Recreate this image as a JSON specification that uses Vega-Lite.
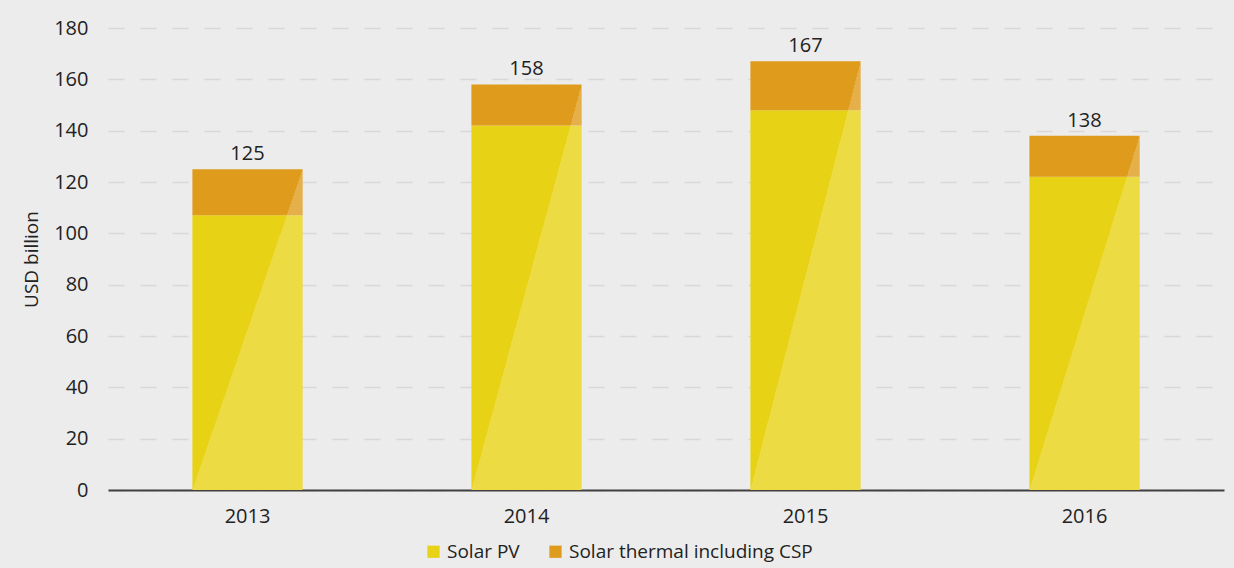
{
  "$schema": "https://vega.github.io/schema/vega-lite/v6.json",
  "width": 1116,
  "height": 462,
  "autosize": {"type": "none"},
  "padding": {"left": 108, "top": 28, "right": 10, "bottom": 78},
  "background": "#ececec",
  "config": {
    "view": {"stroke": null},
    "font": "Open Sans",
    "text": {"font": "Open Sans"},
    "axisY": {
      "title": "USD billion",
      "titleFontSize": 19,
      "titleFontWeight": "normal",
      "titleColor": "#222222",
      "titlePadding": 12,
      "labelFontSize": 20,
      "labelColor": "#222222",
      "labelPadding": 20,
      "labelOverlap": false,
      "tickCount": 9,
      "ticks": false,
      "domain": false,
      "gridColor": "#d8d8d8",
      "gridDash": [16, 16],
      "gridWidth": 1.5
    }
  },
  "data": {
    "values": [
      {"year": "2013", "type": "Solar PV", "value": 107},
      {"year": "2013", "type": "Solar thermal including CSP", "value": 18},
      {"year": "2014", "type": "Solar PV", "value": 142},
      {"year": "2014", "type": "Solar thermal including CSP", "value": 16},
      {"year": "2015", "type": "Solar PV", "value": 148},
      {"year": "2015", "type": "Solar thermal including CSP", "value": 19},
      {"year": "2016", "type": "Solar PV", "value": 122},
      {"year": "2016", "type": "Solar thermal including CSP", "value": 16}
    ]
  },
  "encoding": {
    "x": {
      "field": "year",
      "type": "nominal",
      "scale": {"paddingInner": 0.605, "paddingOuter": 0.3025},
      "axis": {
        "title": null,
        "labelAngle": 0,
        "labelFontSize": 20,
        "labelColor": "#222222",
        "labelPadding": 16,
        "ticks": false,
        "domainColor": "#404040",
        "domainWidth": 2,
        "grid": false
      }
    }
  },
  "layer": [
    {
      "mark": {"type": "bar"},
      "encoding": {
        "y": {
          "field": "value",
          "type": "quantitative",
          "stack": "zero",
          "scale": {"domain": [0, 180]},
          "title": "USD billion"
        },
        "color": {
          "field": "type",
          "type": "nominal",
          "scale": {
            "domain": ["Solar PV", "Solar thermal including CSP"],
            "range": ["#e8d215", "#df9b1c"]
          },
          "legend": {
            "title": null,
            "orient": "none",
            "legendX": 316,
            "legendY": 514,
            "direction": "horizontal",
            "symbolType": "square",
            "symbolSize": 150,
            "symbolStrokeWidth": 0,
            "labelFontSize": 19,
            "labelColor": "#222222",
            "labelLimit": 0,
            "columnPadding": 26
          }
        },
        "order": {"field": "type", "sort": "ascending"}
      }
    },
    {
      "mark": {
        "type": "bar",
        "fill": {
          "gradient": "linear",
          "x1": 0, "y1": 0, "x2": 1, "y2": 1,
          "stops": [
            {"offset": 0, "color": "rgba(255,255,255,0)"},
            {"offset": 0.5, "color": "rgba(255,255,255,0)"},
            {"offset": 0.5, "color": "rgba(255,255,255,0.2)"},
            {"offset": 1, "color": "rgba(255,255,255,0.2)"}
          ]
        }
      },
      "encoding": {
        "y": {"aggregate": "sum", "field": "value", "type": "quantitative", "title": "USD billion"}
      }
    },
    {
      "mark": {"type": "text", "dy": -15, "fontSize": 20, "color": "#222222"},
      "encoding": {
        "y": {"aggregate": "sum", "field": "value", "type": "quantitative", "title": "USD billion"},
        "text": {"aggregate": "sum", "field": "value", "type": "quantitative"}
      }
    }
  ]
}
